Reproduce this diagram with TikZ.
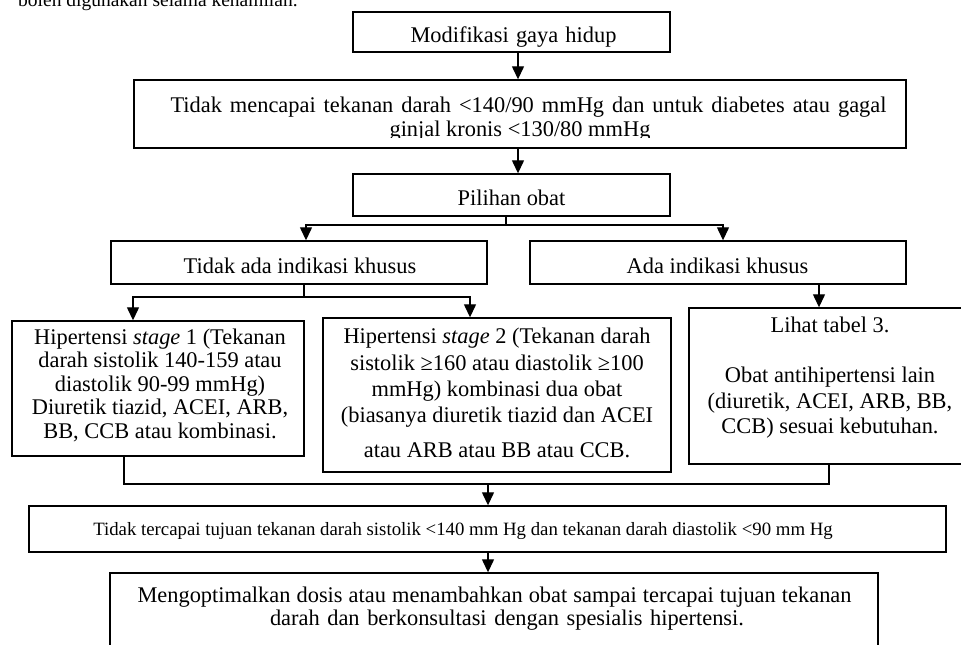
\documentclass[tikz,border=0pt]{standalone}
\usepackage{fontspec}
\setmainfont{Liberation Serif}
\usetikzlibrary{arrows.meta}
\newcommand\fsmain{\fontsize{22.4}{26}\selectfont}
\newcommand\fssmall{\fontsize{18.8}{22}\selectfont}
\newcommand\fstop{\fontsize{19.5}{22}\selectfont}
\begin{document}
\begin{tikzpicture}[x=1pt,y=-1pt,
  box/.style={draw, line width=1.4pt, rectangle, inner sep=0pt},
  tx/.style={anchor=base, inner sep=0pt, font=\fsmain},
  sm/.style={anchor=base, inner sep=0pt, font=\fssmall},
  ln/.style={line width=1.3pt},
  arr/.style={ln, -{Triangle[width=12pt,length=13pt]}}]
\clip (0,0) rectangle (961,645);
% top cut-off text
\node[anchor=base west, inner sep=0pt, font=\fstop] (t0) at (18,6) {boleh digunakan selama kehamilan.};
% boxes
\node[box, minimum width=317pt, minimum height=40pt] (b1) at (511.5,32) {};
\node[box, minimum width=772pt, minimum height=68pt] (b2) at (520,114) {};
\node[box, minimum width=317pt, minimum height=42pt] (b3) at (511.5,195) {};
\node[box, minimum width=376pt, minimum height=43pt] (b4) at (299,262.5) {};
\node[box, minimum width=376pt, minimum height=43pt] (b5) at (718,262.5) {};
\node[box, minimum width=292pt, minimum height=135pt] (b6) at (158,388.5) {};
\node[box, minimum width=348pt, minimum height=154pt] (b7) at (497,395) {};
\node[box, minimum width=282pt, minimum height=156pt] (b8) at (830,386) {};
\node[box, minimum width=917pt, minimum height=46pt] (b9) at (487.5,529) {};
\node[box, minimum width=768pt, minimum height=107pt] (b10) at (494,626.5) {};
% texts
\node[tx] (t1) at (513.5,42) {\makebox[206pt][s]{Modifikasi gaya hidup}};
\node[tx] (t2a) at (528.5,112) {\makebox[716pt][s]{Tidak mencapai tekanan darah <140/90 mmHg dan untuk diabetes atau gagal}};
\begin{scope}
\clip (134,80) rectangle (906,137.5);
\node[tx] (t2b) at (520,136) {ginjal kronis <130/80 mmHg};
\end{scope}
\node[tx] (t3) at (511.5,205) {Pilihan obat};
\node[tx] (t4) at (300,273) {Tidak ada indikasi khusus};
\node[tx] (t5) at (717.5,273) {Ada indikasi khusus};
\node[tx] (t6a) at (160,344) {Hipertensi \textit{stage} 1 (Tekanan};
\node[tx] (t6b) at (160,367.5) {darah sistolik 140-159 atau};
\node[tx] (t6c) at (160,391) {diastolik 90-99 mmHg)};
\node[tx] (t6d) at (160,414.5) {Diuretik tiazid, ACEI, ARB,};
\node[tx] (t6e) at (160,438) {BB, CCB atau kombinasi.};
\node[tx] (t7a) at (497,343) {Hipertensi \textit{stage} 2 (Tekanan darah};
\node[tx] (t7b) at (497,370) {sistolik ≥160 atau diastolik ≥100};
\node[tx] (t7c) at (497,396) {mmHg) kombinasi dua obat};
\node[tx] (t7d) at (497,422) {(biasanya diuretik tiazid dan ACEI};
\node[tx] (t7e) at (497,457) {atau ARB atau BB atau CCB.};
\node[tx] (t8a) at (830,332) {Lihat tabel 3.};
\node[tx] (t8b) at (830,382) {Obat antihipertensi lain};
\node[tx] (t8c) at (830,408) {(diuretik, ACEI, ARB, BB,};
\node[tx] (t8d) at (830,433) {CCB) sesuai kebutuhan.};
\node[sm] (t9) at (463,535) {Tidak tercapai tujuan tekanan darah sistolik <140 mm Hg dan tekanan darah diastolik <90 mm Hg};
\node[tx] (t10a) at (494.5,602) {\makebox[714pt][s]{Mengoptimalkan dosis atau menambahkan obat sampai tercapai tujuan tekanan}};
\node[tx] (t10b) at (507,625) {\makebox[474pt][s]{darah dan berkonsultasi dengan spesialis hipertensi.}};
% helper coordinates
\coordinate (x518) at (518,0);
\coordinate (x306) at (306,0);
\coordinate (x723) at (723,0);
\coordinate (x133) at (133,0);
\coordinate (x470) at (470,0);
\coordinate (x819) at (819,0);
\coordinate (j1) at (506,225);
\coordinate (j2) at (304,297);
\coordinate (j3) at (124,484);
\coordinate (j4) at (829,484);
\coordinate (j5) at (488,484);
% connectors
\draw[arr] (b1.south -| x518) -- (b2.north -| x518);
\draw[arr] (b2.south -| x518) -- (b3.north -| x518);
\draw[ln] (b3.south -| j1) -- (j1);
\draw[arr] (j1) -| (b4.north -| x306);
\draw[arr] (j1) -| (b5.north -| x723);
\draw[ln] (b4.south -| j2) -- (j2);
\draw[arr] (j2) -| (b6.north -| x133);
\draw[arr] (j2) -| (b7.north -| x470);
\draw[arr] (b5.south -| x819) -- (b8.north -| x819);
\draw[ln] (b6.south -| j3) -- (j3) -- (j4) -- (b8.south -| j4);
\draw[arr] (j5) -- (b9.north -| j5);
\draw[arr] (b9.south -| j5) -- (b10.north -| j5);
\end{tikzpicture}
\end{document}
